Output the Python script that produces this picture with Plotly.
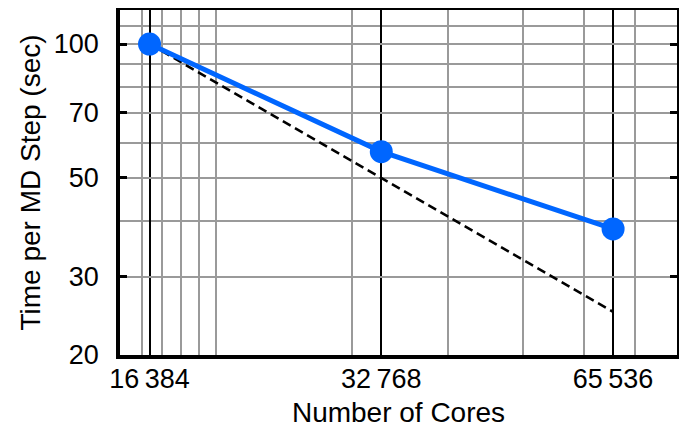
import plotly.graph_objects as go

cores = [16384, 32768, 65536]
time_measured = [100, 57.3, 38.4]
time_ideal = [100, 50, 25]

x_major = [16384, 32768, 65536]
x_major_text = ["16\u2009384", "32\u2009768", "65\u2009536"]
x_minor = [16000, 17000, 18000, 19000, 20000, 30000, 40000, 50000, 60000, 70000]
y_major = [20, 30, 50, 70, 100]
y_minor = [40, 60, 80, 90, 110]

BLUE = "#0066ff"
GRAY = "#9a9a9a"
FONT = "Liberation Sans"

fig = go.Figure()
fig.add_trace(go.Scatter(x=cores, y=time_ideal, mode="lines",
                         line=dict(color="black", width=2.5, dash="9px,5px"),
                         showlegend=False))
fig.add_trace(go.Scatter(x=cores, y=time_measured, mode="lines+markers",
                         line=dict(color=BLUE, width=5),
                         marker=dict(color=BLUE, size=23),
                         showlegend=False))

fig.update_layout(
    width=687, height=432,
    margin=dict(l=112, r=18, t=2, b=85),
    paper_bgcolor="white", plot_bgcolor="white",
    font=dict(family=FONT, size=27, color="black"),
    xaxis=dict(
        type="log", range=[4.1761, 4.8995],
        tickmode="array", tickvals=x_major, ticktext=x_major_text,
        tickfont=dict(size=27),
        showgrid=True, gridcolor="black", gridwidth=2,
        minor=dict(tickmode="array", tickvals=x_minor, showgrid=True,
                   gridcolor=GRAY, gridwidth=1.5, ticks=""),
        ticks="inside", ticklen=6, tickwidth=2, tickcolor="black",
        showline=True, linecolor="black", linewidth=3.5, mirror="ticks",
        title=dict(text="Number of Cores", font=dict(size=28), standoff=10),
        ticklabelstandoff=-3,
        zeroline=False, automargin=False,
    ),
    yaxis=dict(
        type="log", range=[1.30103, 2.0765],
        tickmode="array", tickvals=y_major, ticktext=[str(v) for v in y_major],
        tickfont=dict(size=27),
        showgrid=True, gridcolor=GRAY, gridwidth=1.5,
        minor=dict(tickmode="array", tickvals=y_minor, showgrid=True,
                   gridcolor=GRAY, gridwidth=1.5, ticks=""),
        ticks="inside", ticklen=7, tickwidth=2.5, tickcolor="black",
        showline=True, linecolor="black", linewidth=3.5, mirror="ticks",
        title=dict(text="Time per MD Step (sec)", font=dict(size=28), standoff=6),
        ticklabelstandoff=12,
        zeroline=False, automargin=False,
    ),
)

fig.write_html("out.html")
